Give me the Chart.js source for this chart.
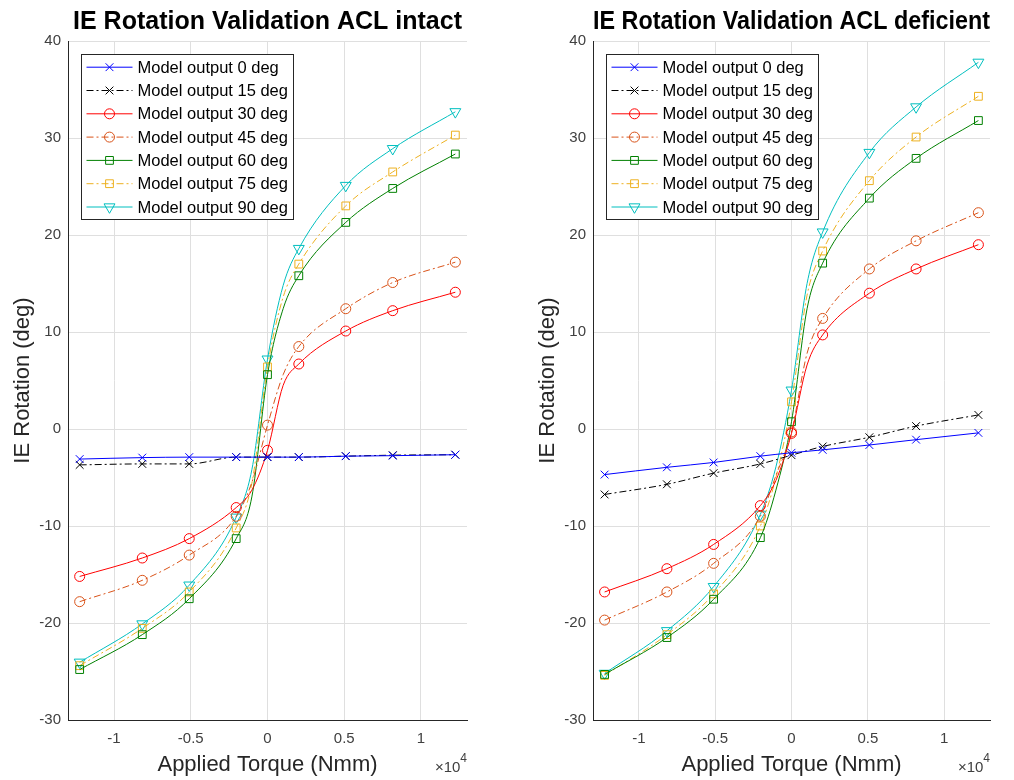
<!DOCTYPE html>
<html><head><meta charset="utf-8">
<script src="https://cdn.jsdelivr.net/npm/chart.js@4.4.1/dist/chart.umd.min.js"></script>
<style>
html,body{margin:0;padding:0;background:#fff;}
.wrap{position:absolute;top:0;width:507px;height:780px;}
#wrapL{left:0}
#wrapR{left:507px}
</style></head><body>
<div class="wrap" id="wrapL"><canvas id="cL" width="507" height="780"></canvas></div>
<div class="wrap" id="wrapR"><canvas id="cR" width="507" height="780"></canvas></div>
<script>
// ---------- DATA ----------
const titles = ['IE Rotation Validation ACL intact', 'IE Rotation Validation ACL deficient'];
const xAxisLabel = 'Applied Torque (Nmm)';
const yAxisLabel = 'IE Rotation (deg)';
const seriesNames = ['Model output 0 deg','Model output 15 deg','Model output 30 deg','Model output 45 deg','Model output 60 deg','Model output 75 deg','Model output 90 deg'];
// torque values (Nmm)
const torqueMarked = [-12240, -8160, -5100, -2040, 0, 2040, 5100, 8160, 12240];
const torqueFull   = [-12240, -8160, -5100, -2040, -1020, 0, 1020, 2040, 5100, 8160, 12240];
const xTickValues = [-10000, -5000, 0, 5000, 10000];
const xTickLabels = ['-1', '-0.5', '0', '0.5', '1'];
const yTickValues = [-30, -20, -10, 0, 10, 20, 30, 40];
const yTickLabels = ['-30', '-20', '-10', '0', '10', '20', '30', '40'];

// ACL intact
const intact0  = [-3.1, -2.95, -2.9, -2.9, -2.9, -2.9, -2.8, -2.75, -2.65];
const intact15 = [-3.7, -3.6, -3.6, -2.9, -2.9, -2.9, -2.8, -2.7, -2.65];
const intact30 = [-15.2, -13.3, -11.3, -8.1, -6.3, -2.2, 4.5, 6.7, 10.1, 12.2, 14.1];
const intact45 = [-17.8, -15.6, -13.0, -9.0, -5.5, 0.4, 5.6, 8.5, 12.4, 15.1, 17.2];
const intact60 = [-24.8, -21.2, -17.5, -11.3, -7.0, 5.6, 12.4, 15.8, 21.3, 24.8, 28.35];
const intact75 = [-24.4, -20.55, -16.8, -10.2, -5.6, 6.4, 13.6, 17.0, 23.0, 26.5, 30.3];
const intact90 = [-24.05, -20.1, -16.1, -9.1, -4.2, 7.2, 14.8, 18.6, 25.1, 28.9, 32.7];

// ACL deficient
const defic0  = [-4.7, -3.95, -3.45, -2.8, -2.45, -2.15, -1.65, -1.1, -0.4];
const defic15 = [-6.75, -5.7, -4.55, -3.6, -2.7, -1.8, -0.85, 0.3, 1.45];
const defic30 = [-16.8, -14.4, -11.9, -7.9, -5.3, -0.45, 6.6, 9.7, 14.0, 16.5, 19.0];
const defic45 = [-19.7, -16.8, -13.85, -9.0, -4.8, -0.3, 7.8, 11.4, 16.5, 19.4, 22.3];
const defic60 = [-25.3, -21.5, -17.55, -11.2, -6.3, 0.75, 12.4, 17.1, 23.8, 27.9, 31.8];
const defic75 = [-25.4, -21.2, -17.0, -10.0, -5.0, 2.8, 13.8, 18.35, 25.6, 30.1, 34.3];
const defic90 = [-25.2, -20.8, -16.25, -8.8, -3.9, 4.0, 15.0, 20.3, 28.5, 33.2, 37.8];

// ---------- STYLES ----------
const FONT = '"Liberation Sans", Arial, Helvetica, sans-serif';
const DASHDOT = [7, 3, 2, 3];
const styles = [
  {color: '#0000ff', dash: [], marker: 'crossRot', r: 5.5, rot: 0},
  {color: '#000000', dash: DASHDOT, marker: 'crossRot', r: 5.5, rot: 0},
  {color: '#ff0000', dash: [], marker: 'circle', r: 5, rot: 0},
  {color: '#d95319', dash: DASHDOT, marker: 'circle', r: 5, rot: 0},
  {color: '#008000', dash: [], marker: 'rect', r: 5.5, rot: 0},
  {color: '#edb120', dash: DASHDOT, marker: 'rect', r: 5.5, rot: 0},
  {color: '#00bfbf', dash: [], marker: 'triangle', r: 6.3, rot: 180}
];

function makeDatasets(seriesList) {
  return seriesList.map((vals, i) => {
    const xs = vals.length === torqueFull.length ? torqueFull : torqueMarked;
    const st = styles[i];
    return {
      label: seriesNames[i],
      data: xs.map((x, k) => ({x: x, y: vals[k]})),
      borderColor: st.color,
      backgroundColor: 'rgba(0,0,0,0)',
      borderWidth: 1,
      borderDash: st.dash,
      pointStyle: st.marker,
      pointRotation: st.rot,
      pointRadius: xs.map(x => Math.abs(x) === 1020 ? 0 : st.r),
      pointBorderColor: st.color,
      pointBackgroundColor: 'rgba(0,0,0,0)',
      pointBorderWidth: 1,
      cubicInterpolationMode: 'monotone',
      fill: false,
      _marker: st.marker, _r: st.r, _rot: st.rot
    };
  });
}

function drawMarker(ctx, type, x, y, r, rot) {
  ctx.beginPath();
  if (type === 'circle') {
    ctx.arc(x, y, r, 0, Math.PI * 2);
  } else if (type === 'rect') {
    const s = r * Math.SQRT1_2;
    ctx.rect(x - s, y - s, 2 * s, 2 * s);
  } else if (type === 'crossRot') {
    const s = r * Math.SQRT1_2;
    ctx.moveTo(x - s, y - s); ctx.lineTo(x + s, y + s);
    ctx.moveTo(x - s, y + s); ctx.lineTo(x + s, y - s);
  } else if (type === 'triangle') {
    const a = (rot || 0) * Math.PI / 180;
    for (let k = 0; k < 3; k++) {
      const ang = a + k * 2 * Math.PI / 3;
      const px = x + Math.sin(ang) * r, py = y - Math.cos(ang) * r;
      if (k === 0) ctx.moveTo(px, py); else ctx.lineTo(px, py);
    }
    ctx.closePath();
  }
  ctx.stroke();
}

const matlabLegend = {
  id: 'matlabLegend',
  afterDatasetsDraw(chart) {
    const ctx = chart.ctx, a = chart.chartArea;
    const bx = Math.round(a.left + 13) + 0.5, by = Math.round(a.top + 13) + 0.5;
    const bw = 212, bh = 165;
    ctx.save();
    ctx.fillStyle = '#ffffff';
    ctx.fillRect(bx, by, bw, bh);
    ctx.strokeStyle = '#262626';
    ctx.lineWidth = 1;
    ctx.setLineDash([]);
    ctx.strokeRect(bx, by, bw, bh);
    chart.data.datasets.forEach((ds, i) => {
      const y = by + 12.7 + i * 23.3;
      ctx.strokeStyle = ds.borderColor;
      ctx.lineWidth = 1;
      ctx.setLineDash(ds.borderDash || []);
      ctx.beginPath(); ctx.moveTo(bx + 5, y); ctx.lineTo(bx + 51, y); ctx.stroke();
      ctx.setLineDash([]);
      drawMarker(ctx, ds._marker, bx + 28, y, ds._r, ds._rot);
      ctx.fillStyle = '#000000';
      ctx.font = '16.5px ' + FONT;
      ctx.textAlign = 'left';
      ctx.textBaseline = 'middle';
      ctx.fillText(ds.label, bx + 56, y + 1);
    });
    ctx.restore();
  }
};

const multiplier = {
  id: 'multiplier',
  afterDraw(chart) {
    const ctx = chart.ctx, a = chart.chartArea;
    ctx.save();
    ctx.fillStyle = '#404040';
    ctx.textBaseline = 'alphabetic';
    ctx.font = '12px ' + FONT;
    const w4 = ctx.measureText('4').width;
    ctx.textAlign = 'right';
    ctx.fillText('4', a.right, 762);
    ctx.font = '15px ' + FONT;
    ctx.fillText('\u00d710', a.right - w4, 772);
    ctx.restore();
  }
};

function makeChart(id, title, seriesList, padLeft, padRight) {
  return new Chart(document.getElementById(id), {
    type: 'line',
    data: {datasets: makeDatasets(seriesList)},
    plugins: [matlabLegend, multiplier],
    options: {
      responsive: false,
      animation: false,
      events: [],
      layout: {padding: {left: padLeft, right: padRight, top: 0, bottom: 0}},
      plugins: {
        legend: {display: false},
        tooltip: {enabled: false},
        title: {
          display: true, text: title, fullSize: false, color: '#000000',
          font: {family: FONT, size: 25, weight: 'bold', lineHeight: 1.2},
          padding: {top: 7, bottom: 4}
        }
      },
      scales: {
        x: {
          type: 'linear', min: -13000, max: 13000,
          afterFit: s => { s.height = 60; },
          afterBuildTicks: s => { s.ticks = xTickValues.map(v => ({value: v})); },
          ticks: {
            color: '#404040', font: {family: FONT, size: 15}, padding: 10, maxRotation: 0,
            callback: (v) => { const k = xTickValues.indexOf(v); return k >= 0 ? xTickLabels[k] : ''; }
          },
          grid: {color: '#dfdfdf', drawTicks: false, lineWidth: 1},
          border: {display: true, color: '#262626', width: 1},
          title: {display: true, text: xAxisLabel, color: '#262626', font: {family: FONT, size: 22}, padding: {top: 0, bottom: 2}}
        },
        y: {
          type: 'linear', min: -30, max: 40,
          afterFit: s => { s.width = 68; },
          afterBuildTicks: s => { s.ticks = yTickValues.map(v => ({value: v})); },
          ticks: {
            color: '#404040', font: {family: FONT, size: 15}, padding: 7,
            callback: (v) => { const k = yTickValues.indexOf(v); return k >= 0 ? yTickLabels[k] : ''; }
          },
          grid: {color: '#dfdfdf', drawTicks: false, lineWidth: 1},
          border: {display: true, color: '#262626', width: 1},
          title: {display: true, text: yAxisLabel, color: '#262626', font: {family: FONT, size: 22}, padding: {top: 10, bottom: 0}}
        }
      }
    }
  });
}

makeChart('cL', titles[0], [intact0, intact15, intact30, intact45, intact60, intact75, intact90], 0, 40);
makeChart('cR', titles[1], [defic0, defic15, defic30, defic45, defic60, defic75, defic90], 18, 24);
</script>
</body></html>
